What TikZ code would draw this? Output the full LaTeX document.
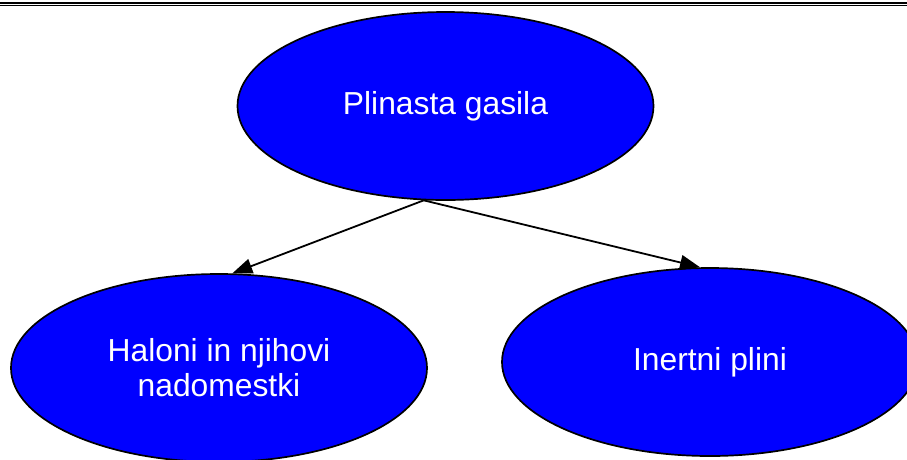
\documentclass[tikz,border=0pt]{standalone}
\usepackage{fontspec}
\setmainfont{Liberation Sans}
\usetikzlibrary{shapes.geometric,arrows.meta}
\definecolor{fillblue}{RGB}{0,0,255}
\tikzset{
  bubble/.style={ellipse, draw=black, line width=1.7pt, fill=fillblue, text=white,
    minimum width=416pt, minimum height=188pt, inner sep=0pt, align=center,
    font=\fontsize{31.8}{35}\selectfont},
  link/.style={line width=1.8pt, -{Triangle[length=20pt,width=15pt]}},
  rule/.style={black}
}
\begin{document}
\begin{tikzpicture}[x=1pt,y=-1pt]
\useasboundingbox (0,0) rectangle (907,459);
\clip (0,0) rectangle (907,459);
\fill[white] (0,0) rectangle (907,459);
\draw[rule, line width=2.2pt] (0,2.7) -- (907,2.7);
\draw[rule, line width=1.4pt] (0,5.6) -- (907,5.6);
\node[bubble] (top) at (445.5,106) {Plinasta gasila};
\node[bubble] (left) at (219,368) {Haloni in njihovi\\nadomestki};
\node[bubble] (right) at (710,362) {Inertni plini};
\draw[link] (top.257.7) -- (left.82);
\draw[link] (top.257.7) -- (right.96);
\end{tikzpicture}
\end{document}
